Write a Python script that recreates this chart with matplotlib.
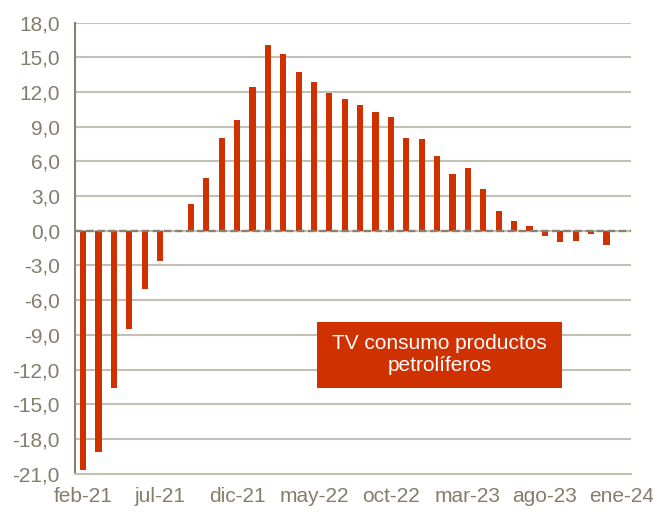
import matplotlib
matplotlib.use("Agg")
import matplotlib.pyplot as plt
from matplotlib.patches import Rectangle
import numpy as np

plt.rcParams['font.family'] = ['Liberation Sans', 'DejaVu Sans']

# tasa de variación mensual, feb-21 .. ene-24
months = ['feb-21', 'mar-21', 'abr-21', 'may-21', 'jun-21', 'jul-21', 'ago-21', 'sep-21',
          'oct-21', 'nov-21', 'dic-21', 'ene-22', 'feb-22', 'mar-22', 'abr-22', 'may-22',
          'jun-22', 'jul-22', 'ago-22', 'sep-22', 'oct-22', 'nov-22', 'dic-22', 'ene-23',
          'feb-23', 'mar-23', 'abr-23', 'may-23', 'jun-23', 'jul-23', 'ago-23', 'sep-23',
          'oct-23', 'nov-23', 'dic-23', 'ene-24']
tv = [-20.7, -19.1, -13.6, -8.5, -5.0, -2.6, 0.0, 2.3,
      4.6, 8.0, 9.6, 12.4, 16.1, 15.3, 13.7, 12.9,
      11.9, 11.4, 10.9, 10.3, 9.8, 8.0, 7.9, 6.5,
      4.9, 5.4, 3.6, 1.7, 0.8, 0.4, -0.5, -1.0,
      -0.9, -0.3, -1.2, 0.0]
yticks = np.arange(-21, 19, 3)
label = 'TV consumo productos\npetrolíferos'

red = '#CF3100'
grey_txt = '#857D6C'
grid_c = '#C4C0B4'

fig = plt.figure(figsize=(6.53, 5.12), dpi=100)
ax = fig.add_axes([0.115, 0.075, 0.851, 0.881])

x = np.arange(len(months))
ax.bar(x, tv, width=0.4, color=red, linewidth=0, zorder=3)

ax.set_ylim(-21, 18)
ax.set_xlim(-0.52, len(months) - 0.42)
ax.set_yticks(yticks)
ax.set_yticklabels([f'{v:.1f}'.replace('.', ',') for v in yticks])
ax.set_xticks(x[::5])
ax.set_xticklabels(months[::5])

ax.grid(axis='y', color=grid_c, linewidth=1.5, zorder=0)
ax.axhline(0, color='#8A8270', linewidth=1.7, linestyle=(0, (3.2, 1.5)), zorder=4)

for s in ['top', 'right']:
    ax.spines[s].set_visible(False)
ax.spines['bottom'].set_color(grid_c)
ax.spines['bottom'].set_linewidth(1.5)
ax.spines['left'].set_color('#8A8270')
ax.spines['left'].set_linewidth(1.5)

ax.tick_params(axis='both', length=0, labelsize=15, colors=grey_txt)
ax.tick_params(axis='y', pad=11)
ax.tick_params(axis='x', pad=10)

ax.add_patch(Rectangle((0.436, 0.19), 0.44, 0.147, transform=ax.transAxes,
                       facecolor=red, edgecolor='none', zorder=5))
ax.text(0.656, 0.264, label, transform=ax.transAxes, ha='center', va='center',
        color='white', fontsize=15, linespacing=1.25, zorder=6)

fig.savefig('out.png', dpi=100)
